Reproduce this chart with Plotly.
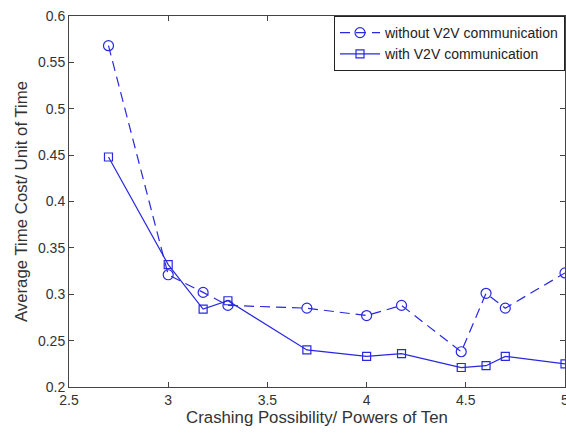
import plotly.graph_objects as go

x_vals = [2.699, 3.0, 3.176, 3.301, 3.699, 4.0, 4.176, 4.477, 4.602, 4.699, 5.0]
without_v2v = [0.568, 0.321, 0.302, 0.288, 0.285, 0.277, 0.288, 0.238, 0.301, 0.285, 0.323]
with_v2v = [0.448, 0.332, 0.284, 0.293, 0.240, 0.233, 0.236, 0.221, 0.223, 0.233, 0.225]

x_ticks = [2.5, 3, 3.5, 4, 4.5, 5]
x_ticklabels = ["2.5", "3", "3.5", "4", "4.5", "5"]
y_ticks = [0.2, 0.25, 0.3, 0.35, 0.4, 0.45, 0.5, 0.55, 0.6]
y_ticklabels = ["0.2", "0.25", "0.3", "0.35", "0.4", "0.45", "0.5", "0.55", "0.6"]

blue = "rgb(40,40,225)"

fig = go.Figure()
fig.add_trace(go.Scatter(
    x=x_vals, y=without_v2v, mode="lines+markers",
    name="without V2V communication",
    line=dict(color=blue, width=1.2, dash="10px,6px"),
    marker=dict(symbol="circle-open", size=10, color=blue, line=dict(width=1.2, color=blue)),
    cliponaxis=False,
))
fig.add_trace(go.Scatter(
    x=x_vals, y=with_v2v, mode="lines+markers",
    name="with V2V communication",
    line=dict(color=blue, width=1.2),
    marker=dict(symbol="square-open", size=8, color=blue, line=dict(width=1.2, color=blue)),
    cliponaxis=False,
))

axis_common = dict(
    showgrid=False, zeroline=False, ticks="inside", ticklen=5,
    tickcolor="#444", linecolor="#444", linewidth=1, mirror="ticks",
    showline=True, automargin=False, ticklabeloverflow="allow",
    tickfont=dict(family="Liberation Sans, Arial", size=14, color="#333"),
)

fig.update_layout(
    width=566, height=435,
    margin=dict(l=69, r=1, t=16, b=48, autoexpand=False),
    paper_bgcolor="white", plot_bgcolor="white",
    font=dict(family="Liberation Sans, Arial", color="#333"),
    xaxis=dict(range=[2.5, 5], tickvals=x_ticks, ticktext=x_ticklabels,
               title=dict(text="Crashing Possibility/ Powers of Ten", font=dict(size=16.8, color="#333"), standoff=4),
               **axis_common),
    yaxis=dict(range=[0.2, 0.6], tickvals=y_ticks, ticktext=y_ticklabels,
               title=dict(text="Average Time Cost/ Unit of Time", font=dict(size=16.8, color="#333"), standoff=6),
               **axis_common),
    legend=dict(x=1, y=1, xanchor="right", yanchor="top",
                bgcolor="white", bordercolor="#222", borderwidth=1,
                font=dict(size=14, color="#222"), tracegroupgap=0,
                itemwidth=40),
    showlegend=True,
)

fig.write_html("out.html", config={"displayModeBar": False},
               post_script="document.body.style.margin='0px';document.body.style.overflow='hidden';")
